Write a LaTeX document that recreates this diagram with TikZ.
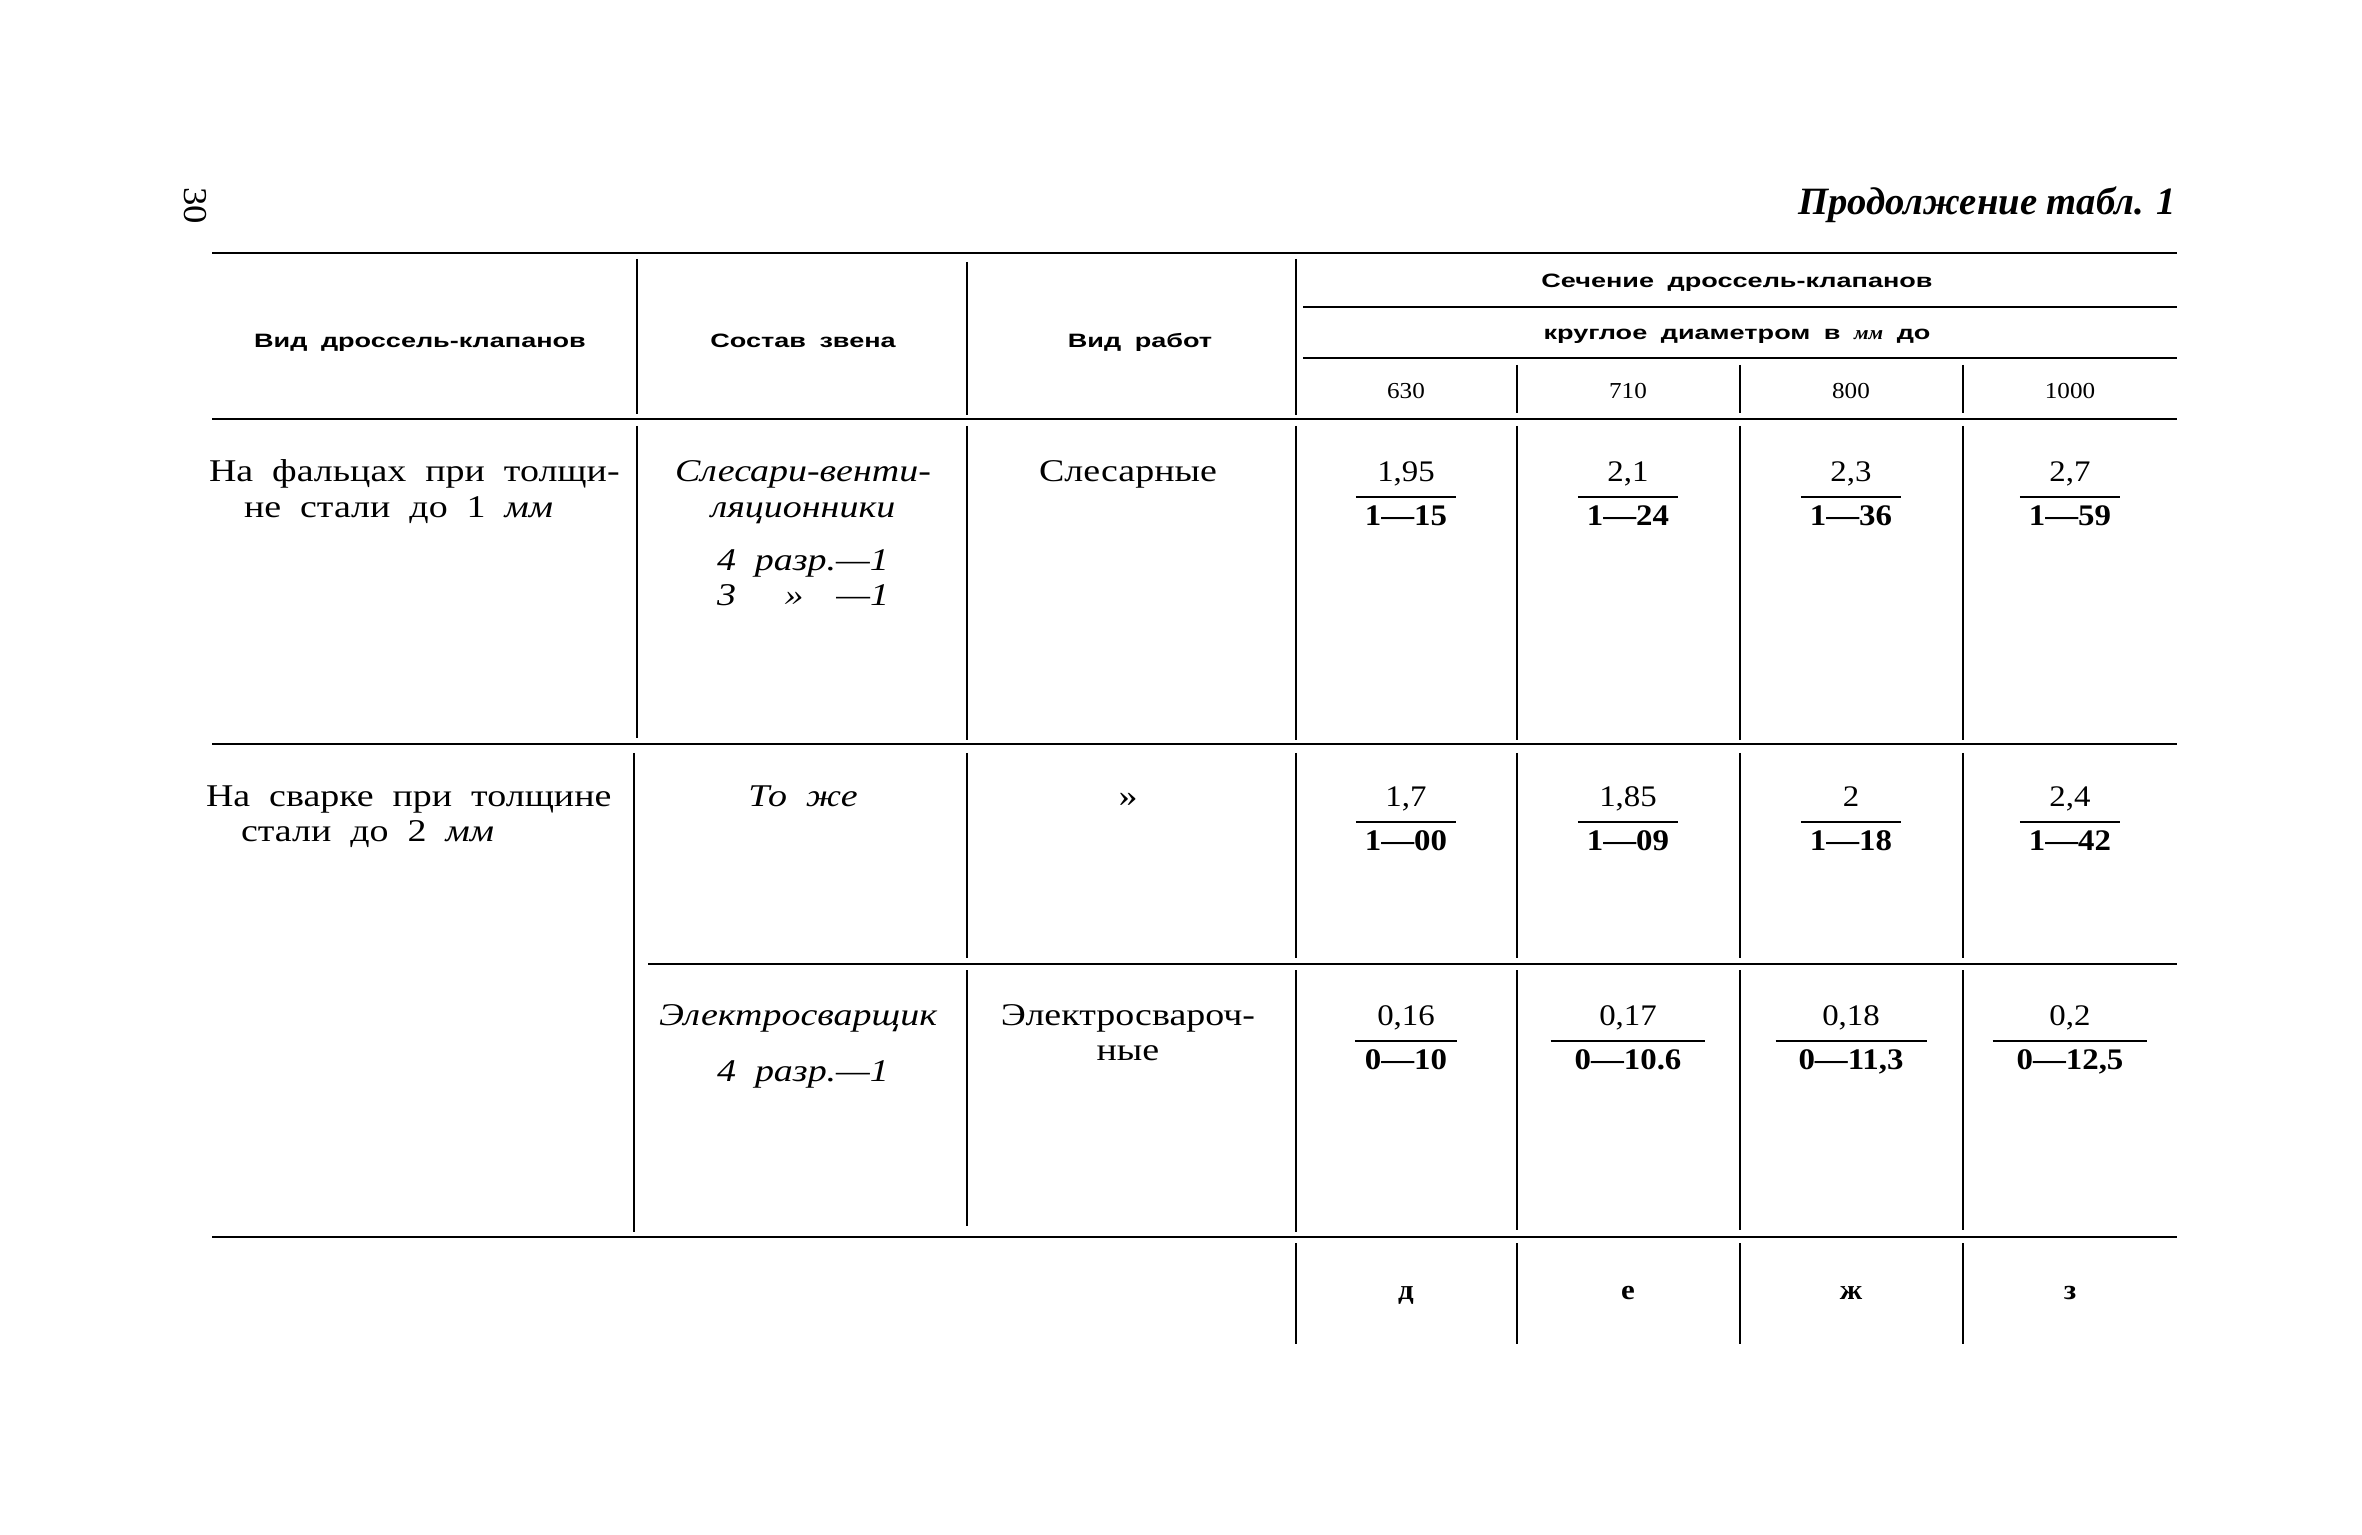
\documentclass[tikz,border=0pt]{standalone}
\usepackage{fontspec}
\setmainfont{Liberation Serif}
\newfontfamily\bodyf[FakeStretch=1.2,WordSpace=2]{Liberation Serif}
\newfontfamily\hdrf[FakeStretch=1.4,WordSpace=1.8]{Liberation Sans}
\newfontfamily\numf[FakeStretch=1.1]{Liberation Serif}
\newcommand\tblbody{\bodyf\fontsize{9}{10}\selectfont}
\newcommand\tblhead{\hdrf\bfseries\fontsize{5.5}{6.5}\selectfont}
\newcommand\tblnum{\numf\fontsize{8.5}{9.5}\selectfont}
\newcommand\tblsmall{\numf\fontsize{6.5}{7}\selectfont}
\usetikzlibrary{calc}
\tikzset{
  txt/.style={inner sep=0pt, outer sep=0pt, font=\tblbody, text height=0.7em, text depth=0.2em},
  hdr/.style={txt, font=\tblhead},
  fnum/.style={txt, font=\tblnum},
  fden/.style={txt, font=\tblnum\bfseries},
  small/.style={txt, font=\tblsmall},
  hrule/.style={line width=0.75pt},
  vrule/.style={line width=0.6pt},
  fline/.style={line width=0.7pt},
}
% name, x, y of numerator, numerator, denominator, padding of the bar
\newcommand\frc[6]{%
  \node[fnum] (#1n) at (#2,#3) {#4};
  \node[fden] (#1d) at (#2,#3+44) {#5};
  \draw[fline] ($(#1d.west)+(-#6,-20)$) -- ($(#1d.east)+(#6,-20)$);
}
\begin{document}
\begin{tikzpicture}[x=0.1mm,y=-0.1mm]
\fill[white] (0,0) rectangle (2362,1535);
\useasboundingbox (0,0) rectangle (2362,1535);

% page number and caption
\node[inner sep=0pt, font=\numf\fontsize{9.5}{10}\selectfont, rotate=-90] (page) at (195,206) {30};
\node[inner sep=0pt, anchor=base east, font=\bfseries\itshape\fontsize{11}{12}\selectfont] (cont) at (2177,215) {Продолжение табл. 1};

% horizontal rules
\draw[hrule] (212,253) -- (2177,253);
\draw[hrule] (1303,307) -- (2177,307);
\draw[hrule] (1303,358) -- (2177,358);
\draw[hrule] (212,419) -- (2177,419);
\draw[hrule] (212,744) -- (2177,744);
\draw[hrule] (648,964) -- (2177,964);
\draw[hrule] (212,1237) -- (2177,1237);

% vertical rules
\foreach \x/\a/\b in {637/259/414, 637/426/738, 634/753/1232,
                      967/262/415, 967/426/740, 967/753/958, 967/970/1226,
                      1296/259/415, 1296/426/740, 1296/753/958, 1296/970/1232, 1296/1243/1344}
  \draw[vrule] (\x,\a) -- (\x,\b);
\foreach \x in {1517,1740,1963}{
  \draw[vrule] (\x,365) -- (\x,413);
  \draw[vrule] (\x,426) -- (\x,740);
  \draw[vrule] (\x,753) -- (\x,958);
  \draw[vrule] (\x,970) -- (\x,1230);
  \draw[vrule] (\x,1243) -- (\x,1344);
}

% header
\node[hdr] (h1) at (420,339) {Вид дроссель-клапанов};
\node[hdr] (h2) at (803,339) {Состав звена};
\node[hdr] (h3) at (1140,339) {Вид работ};
\node[hdr] (h4) at (1737,279) {Сечение дроссель-клапанов};
\node[hdr] (h5) at (1737,331) {круглое диаметром в {\numf\bfseries\itshape мм} до};
\node[small] (d1) at (1406,390) {630};
\node[small] (d2) at (1628,390) {710};
\node[small] (d3) at (1851,390) {800};
\node[small] (d4) at (2070,390) {1000};

% row 1
\node[txt, anchor=west] (r1a) at (209,473) {На фальцах при толщи-};
\node[txt, anchor=west] (r1b) at (244,509) {не стали до 1 \textit{мм}};
\node[txt, font=\tblbody\itshape] (r1c) at (803,473) {Слесари-венти-};
\node[txt, font=\tblbody\itshape] (r1d) at (803,509) {ляционники};
\node[txt, font=\tblbody\itshape, anchor=west] (r1e) at (717,562) {4 разр.—1};
\node[txt, font=\tblbody\itshape, anchor=west] (r1f) at (717,597) {3};
\node[txt, font=\tblbody\itshape] (r1g) at (794,597) {»};
\node[txt, font=\tblbody\itshape, anchor=east] (r1h) at (889,597) {—1};
\node[txt] (r1i) at (1128,473) {Слесарные};
\frc{fa}{1406}{473}{1,95}{1—15}{9}
\frc{fb}{1628}{473}{2,1}{1—24}{9}
\frc{fc}{1851}{473}{2,3}{1—36}{9}
\frc{fd}{2070}{473}{2,7}{1—59}{9}

% row 2a
\node[txt, anchor=west] (r2a) at (206,798) {На сварке при толщине};
\node[txt, anchor=west] (r2b) at (241,833) {стали до 2 \textit{мм}};
\node[txt, font=\tblbody\itshape] (r2c) at (803,798) {То же};
\node[txt] (r2d) at (1128,798) {»};
\frc{fe}{1406}{798}{1,7}{1—00}{9}
\frc{ff}{1628}{798}{1,85}{1—09}{9}
\frc{fg}{1851}{798}{2}{1—18}{9}
\frc{fh}{2070}{798}{2,4}{1—42}{9}

% row 2b
\node[txt, font=\tblbody\itshape] (r3a) at (798,1017) {Электросварщик};
\node[txt, font=\tblbody\itshape] (r3b) at (803,1073) {4 разр.—1};
\node[txt] (r3c) at (1128,1017) {Электросвароч-};
\node[txt] (r3d) at (1128,1052) {ные};
\frc{fi}{1406}{1017}{0,16}{0—10}{10}
\frc{fj}{1628}{1017}{0,17}{0—10.6}{24}
\frc{fk}{1851}{1017}{0,18}{0—11,3}{23}
\frc{fl}{2070}{1017}{0,2}{0—12,5}{24}

% bottom letters
\node[txt, font=\numf\bfseries\fontsize{8}{9}\selectfont] (l1) at (1406,1291) {д};
\node[txt, font=\numf\bfseries\fontsize{8}{9}\selectfont] (l2) at (1628,1291) {е};
\node[txt, font=\numf\bfseries\fontsize{8}{9}\selectfont] (l3) at (1851,1291) {ж};
\node[txt, font=\numf\bfseries\fontsize{8}{9}\selectfont] (l4) at (2070,1291) {з};
\end{tikzpicture}
\end{document}
